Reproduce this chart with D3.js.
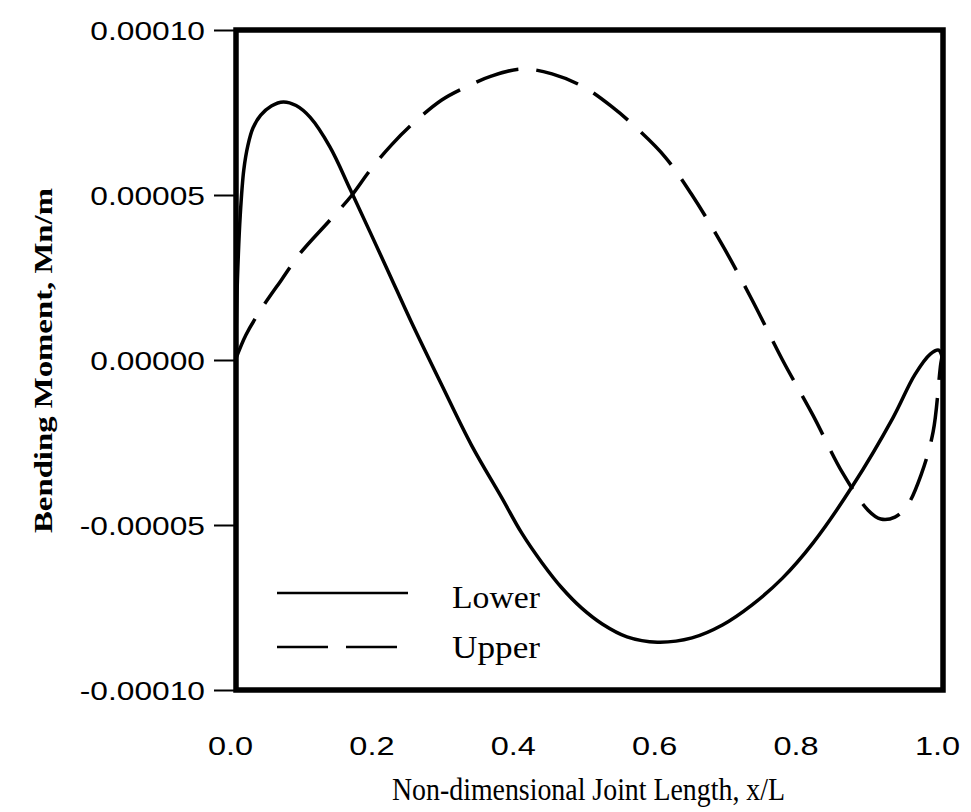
<!DOCTYPE html>
<html>
<head>
<meta charset="utf-8">
<script src="https://cdn.jsdelivr.net/npm/d3@7"></script>
<style>
body { margin: 0; background: #fff; }
.tick text { font-family: "Liberation Sans", Arial, sans-serif; font-size: 26px; fill: #000; }
.serif { font-family: "Liberation Serif", "Times New Roman", serif; fill: #000; }
</style>
</head>
<body>
<div class="chart"></div>
<script>
// x positions (x/L) and bending moment values
var lowerX = [0.000, 0.002, 0.006, 0.011, 0.017, 0.024, 0.035, 0.050, 0.067, 0.085, 0.105, 0.133, 0.162, 0.213,
    0.248, 0.291, 0.333, 0.376, 0.404, 0.433, 0.461, 0.489, 0.518, 0.553, 0.596, 0.645, 0.688, 0.730,
    0.773, 0.816, 0.872, 0.929, 0.960, 0.982, 0.994, 1.000];
var lowerY = [0.0000061, 0.0000242, 0.0000439, 0.0000576, 0.0000652, 0.0000703, 0.0000742, 0.0000770, 0.0000782,
    0.0000771, 0.0000735, 0.0000645, 0.0000515, 0.0000279, 0.0000115, -0.0000076, -0.0000258, -0.0000418,
    -0.0000524, -0.0000615, -0.0000691, -0.0000752, -0.0000800, -0.0000839, -0.0000855, -0.0000842,
    -0.0000803, -0.0000742, -0.0000661, -0.0000555, -0.0000382, -0.0000176, -0.0000045, 0.0000018,
    0.0000030, -0.0000006];

var upperX = [0.000, 0.014, 0.035, 0.064, 0.091, 0.133, 0.163, 0.190, 0.220, 0.251, 0.291, 0.322, 0.362, 0.404,
    0.447, 0.492, 0.532, 0.565, 0.607, 0.645, 0.688, 0.730, 0.773, 0.816, 0.858, 0.894, 0.912, 0.932,
    0.950, 0.969, 0.986, 0.997, 1.000];
var upperY = [0.0000005, 0.0000076, 0.0000152, 0.0000242, 0.0000324, 0.0000424, 0.0000497, 0.0000576, 0.0000652,
    0.0000718, 0.0000788, 0.0000824, 0.0000861, 0.0000882, 0.0000867, 0.0000827, 0.0000767, 0.0000706,
    0.0000615, 0.0000500, 0.0000348, 0.0000182, 0.0000000, -0.0000167, -0.0000342, -0.0000455, -0.0000482,
    -0.0000476, -0.0000439, -0.0000348, -0.0000218, -0.0000009, 0.0000024];

var xTicks = [0, 0.2, 0.4, 0.6, 0.8, 1.0];
var yTicks = [-0.0001, -0.00005, 0, 0.00005, 0.0001];
var seriesNames = ["Lower", "Upper"];

var svgWidth = 971;
var svgHeight = 812;
var margin = { top: 30, right: 28, bottom: 122, left: 236 };
var width = svgWidth - margin.left - margin.right;
var height = svgHeight - margin.top - margin.bottom;

var svg = d3.select(".chart")
    .append("svg")
    .attr("width", svgWidth)
    .attr("height", svgHeight);

var chart = svg.append("g")
    .attr("transform", "translate(" + margin.left + "," + margin.top + ")");

var xScale = d3.scaleLinear().domain([0, 1]).range([0, width]);
var yScale = d3.scaleLinear().domain([-0.0001, 0.0001]).range([height, 0]);

// stretch tick labels a bit wider, like the scanned original
function widen(sel, k) {
    sel.each(function() {
        var w = this.getComputedTextLength();
        d3.select(this).attr("textLength", w * k).attr("lengthAdjust", "spacingAndGlyphs");
    });
}

// plain hyphen for negatives, as in the original
var fmtY = function(d) { return d3.format(".5f")(d).replace("\u2212", "-"); };

var leftAxis = d3.axisLeft(yScale)
    .tickValues(yTicks)
    .tickSize(22)
    .tickPadding(9)
    .tickFormat(fmtY);
var gy = chart.append("g").call(leftAxis);
gy.select(".domain").remove();
gy.selectAll(".tick line").attr("stroke", "#000").attr("stroke-width", 2);
gy.selectAll(".tick text").attr("dy", "0.36em").call(widen, 1.22);

var bottomAxis = d3.axisBottom(xScale)
    .tickValues(xTicks)
    .tickSize(0)
    .tickPadding(47)
    .tickFormat(d3.format(".1f"));
var gx = chart.append("g")
    .attr("transform", "translate(0," + height + ")")
    .call(bottomAxis);
gx.select(".domain").remove();
gx.selectAll(".tick text").attr("dx", -6).call(widen, 1.25);

var line = d3.line()
    .x(function(d) { return xScale(d[0]); })
    .y(function(d) { return yScale(d[1]); })
    .curve(d3.curveCatmullRom.alpha(0.5));

var lowerData = d3.zip(lowerX, lowerY);
var upperData = d3.zip(upperX, upperY);

chart.append("path")
    .datum(lowerData)
    .attr("fill", "none")
    .attr("stroke", "#000")
    .attr("stroke-width", 3.5)
    .attr("d", line);

chart.append("path")
    .datum(upperData)
    .attr("fill", "none")
    .attr("stroke", "#000")
    .attr("stroke-width", 3.5)
    .attr("stroke-dasharray", "44,18")
    .attr("d", line);

// frame
chart.append("rect")
    .attr("x", 0)
    .attr("y", 0)
    .attr("width", width)
    .attr("height", height)
    .attr("fill", "none")
    .attr("stroke", "#000")
    .attr("stroke-width", 5.5);

// legend
var legend = chart.append("g").attr("transform", "translate(41,563)");
legend.append("line")
    .attr("x1", 0).attr("x2", 131).attr("y1", 0).attr("y2", 0)
    .attr("stroke", "#000").attr("stroke-width", 2.5);
legend.append("line")
    .attr("x1", 0).attr("x2", 121).attr("y1", 54).attr("y2", 54)
    .attr("stroke", "#000").attr("stroke-width", 2.5)
    .attr("stroke-dasharray", "51,18");
legend.selectAll("text.leg")
    .data(seriesNames)
    .enter().append("text")
    .attr("class", "serif leg")
    .attr("x", 175)
    .attr("y", function(d, i) { return 15 + i * 50; })
    .style("font-size", "31px")
    .attr("textLength", 88)
    .attr("lengthAdjust", "spacingAndGlyphs")
    .text(function(d) { return d; });

// axis titles
svg.append("text")
    .attr("class", "serif")
    .attr("x", 392)
    .attr("y", 800)
    .style("font-size", "31px")
    .attr("textLength", 393)
    .attr("lengthAdjust", "spacingAndGlyphs")
    .text("Non-dimensional Joint Length, x/L");

svg.append("text")
    .attr("class", "serif")
    .attr("transform", "translate(52,533) rotate(-90)")
    .style("font-size", "26px")
    .style("font-weight", "bold")
    .attr("textLength", 345)
    .attr("lengthAdjust", "spacingAndGlyphs")
    .text("Bending Moment, Mn/m");
</script>
</body>
</html>
